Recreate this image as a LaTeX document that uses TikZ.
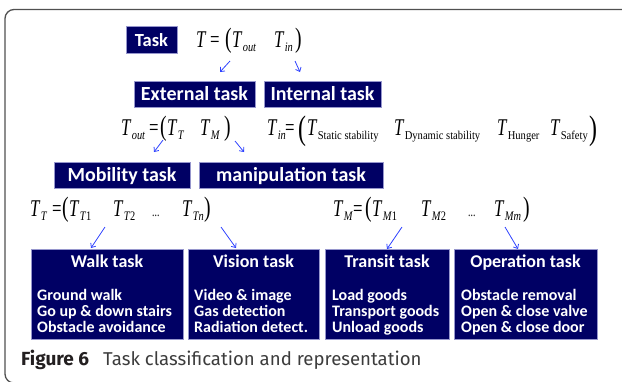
\documentclass[tikz,border=0pt]{standalone}
\usepackage{fontspec}
\usepackage{graphicx}
\setmainfont{Carlito}
\newfontfamily\serifm{Liberation Serif}
\newfontfamily\capfont{Fira Sans}
\usetikzlibrary{arrows.meta}

\definecolor{boxnavy}{RGB}{0,0,100}
\definecolor{boxedge}{RGB}{150,150,205}
\definecolor{arrblue}{RGB}{45,65,255}
\definecolor{frameg}{RGB}{80,80,80}
\definecolor{captxt}{RGB}{35,31,32}
\definecolor{captxtlight}{RGB}{60,60,60}

% Formula pieces: Times-like glyphs, narrowed horizontally
\newcommand\mT{\scalebox{0.7}[1]{\fontsize{24}{24}\selectfont\textit{T}}}
\newcommand\mEq{\scalebox{0.7}[1]{\fontsize{24}{24}\selectfont =}}
\newcommand\mL[1][28]{\scalebox{0.7}[1]{\fontsize{#1}{#1}\selectfont (}}
\newcommand\mR[1][28]{\scalebox{0.7}[1]{\fontsize{#1}{#1}\selectfont )}}
\newcommand\mDots{\scalebox{0.7}[1]{\fontsize{14}{14}\selectfont ...}}
\newcommand\msub[1]{\raisebox{-4pt}{\scalebox{0.8}[1]{\fontsize{13}{13}\selectfont #1}}}
\newcommand\msubR[1]{\raisebox{-4pt}{\scalebox{0.88}[1]{\fontsize{12}{12}\selectfont #1}}}
\newcommand\mTs[1]{\mT\kern0.3pt\msub{#1}}
\newcommand\mTr[1]{\mT\kern0.3pt\msubR{#1}}

\begin{document}
\begin{tikzpicture}[x=1pt,y=-1pt,
  frame/.style={draw=frameg, line width=1.3pt, rounded corners=9pt},
  taskbox/.style={fill=boxnavy, draw=boxedge, line width=0.8pt, inner sep=0pt,
    text=white, font=\bfseries\fontsize{20}{20}\selectfont,
    text height=13.5pt, text depth=0pt},
  bigbox/.style={fill=boxnavy, draw=boxedge, line width=0.8pt, inner sep=0pt,
    minimum height=90pt},
  boxtitle/.style={text=white, inner sep=0pt, anchor=base,
    font=\bfseries\fontsize{18}{18}\selectfont},
  boxitem/.style={text=white, inner sep=0pt, anchor=base west,
    font=\bfseries\fontsize{16}{16}\selectfont},
  fm/.style={inner sep=0pt, anchor=base west, font=\serifm},
  arr/.style={draw=arrblue, line width=0.8pt,
    -{Straight Barb[length=3.5pt,width=6pt]}}]

\useasboundingbox (0,0) rectangle (622,381);
\clip (0,0) rectangle (622,381);

% outer frame, open at the right and bottom
\draw[frame] (623,9.5) -- (5,9.5) -- (5,383) -- (40,383);

% ---- level 1 ----
\node[taskbox, minimum width=51pt, minimum height=27pt,
  font=\bfseries\fontsize{18.5}{18.5}\selectfont] (task) at (151.5,39.5) {Task};
\node[fm] (e1a) at (196,47) {\mT};
\node[fm] (e1b) at (210,47) {\mEq};
\node[fm] (e1c) at (225,47) {\mL};
\node[fm] (e1d) at (232,47) {\mTs{\textit{out}}};
\node[fm] (e1e) at (274,47) {\mTs{\textit{in}}};
\node[fm] (e1f) at (295,47) {\mR};

\coordinate (p1s) at (230,61); \coordinate (p1e) at (220,72);
\coordinate (p2s) at (295,61); \coordinate (p2e) at (300,72);
\draw[arr] (p1s) -- (p1e);
\draw[arr] (p2s) -- (p2e);

% ---- level 2 ----
\node[taskbox, minimum width=121pt, minimum height=26pt] (ext) at (194.5,94) {External task};
\node[taskbox, minimum width=117pt, minimum height=26pt] (int) at (322.5,94) {Internal task};

\node[fm] (e2a) at (121,135) {\mTs{\textit{out}}};
\node[fm] (e2b) at (149,135) {\mEq};
\node[fm] (e2c) at (160,135) {\mL};
\node[fm] (e2d) at (167,135) {\mTs{\textit{T}}};
\node[fm] (e2e) at (200,135) {\mTs{\textit{M}}};
\node[fm] (e2f) at (224,135) {\mR};

\node[fm] (e3a) at (267,135) {\mTs{\textit{in}}};
\node[fm] (e3b) at (285,135) {\mEq};
\node[fm] (e3c) at (298,139) {\mL[34]};
\node[fm] (e3d) at (307,135) {\mTr{Static stability}};
\node[fm] (e3e) at (394,135) {\mTr{Dynamic stability}};
\node[fm] (e3f) at (497,135) {\mTr{Hunger}};
\node[fm] (e3g) at (550,135) {\mTr{Safety}};
\node[fm] (e3h) at (589,139) {\mR[34]};

\coordinate (p3s) at (163,140); \coordinate (p3e) at (154,152);
\coordinate (p4s) at (235,141); \coordinate (p4e) at (244,152);
\draw[arr] (p3s) -- (p3e);
\draw[arr] (p4s) -- (p4e);

% ---- level 3 ----
\node[taskbox, minimum width=136pt, minimum height=26pt] (mob) at (122,175) {Mobility task};
\node[taskbox, minimum width=184pt, minimum height=26pt] (man) at (291,175) {manipulation task};

\node[fm] (e4a) at (30,216) {\mTs{\textit{T}}};
\node[fm] (e4b) at (52,216) {\mEq};
\node[fm] (e4c) at (62,216) {\mL};
\node[fm] (e4d) at (69,216) {\mTs{\textit{T}1}};
\node[fm] (e4e) at (113,216) {\mTs{\textit{T}2}};
\node[fm] (e4f) at (152,216) {\mDots};
\node[fm] (e4g) at (182,216) {\mTs{\textit{Tn}}};
\node[fm] (e4h) at (204,216) {\mR};

\node[fm] (e5a) at (333,216) {\mTs{\textit{M}}};
\node[fm] (e5b) at (353,216) {\mEq};
\node[fm] (e5c) at (365,216) {\mL};
\node[fm] (e5d) at (372,216) {\mTs{\textit{M}1}};
\node[fm] (e5e) at (421,216) {\mTs{\textit{M}2}};
\node[fm] (e5f) at (468,216) {\mDots};
\node[fm] (e5g) at (494,216) {\mTs{\textit{Mm}}};
\node[fm] (e5h) at (523,216) {\mR};

\coordinate (p5s) at (105,227); \coordinate (p5e) at (91,248);
\coordinate (p6s) at (221,227); \coordinate (p6e) at (236,248);
\coordinate (p7s) at (402,227); \coordinate (p7e) at (387,249);
\coordinate (p8s) at (505,227); \coordinate (p8e) at (518,249);
\foreach \s/\e in {p5s/p5e, p6s/p6e, p7s/p7e, p8s/p8e}
  \draw[arr] (\s) -- (\e);

% ---- level 4: leaf tasks ----
\node[bigbox, minimum width=152pt] (walk) at (107,294) {};
\node[bigbox, minimum width=131pt] (vis)  at (253.5,294) {};
\node[bigbox, minimum width=124pt] (tra)  at (387,294) {};
\node[bigbox, minimum width=143pt] (ope)  at (525.5,294) {};

\node[boxtitle] (walkT) at (107,267) {Walk task};
\node[boxtitle] (visT)  at (253.5,267) {Vision task};
\node[boxtitle] (traT)  at (387,267) {Transit task};
\node[boxtitle] (opeT)  at (525.5,267) {Operation task};

\node[boxitem] (walk1) at (37,300) {Ground walk};
\node[boxitem] (walk2) at (37,316) {Go up \& down stairs};
\node[boxitem] (walk3) at (37,332) {Obstacle avoidance};
\node[boxitem] (vis1) at (194,300) {Video \& image};
\node[boxitem] (vis2) at (194,316) {Gas detection};
\node[boxitem] (vis3) at (194,332) {Radiation detect.};
\node[boxitem] (tra1) at (332,300) {Load goods};
\node[boxitem] (tra2) at (332,316) {Transport goods};
\node[boxitem] (tra3) at (332,332) {Unload goods};
\node[boxitem] (ope1) at (461,300) {Obstacle removal};
\node[boxitem] (ope2) at (461,316) {Open \& close valve};
\node[boxitem] (ope3) at (461,332) {Open \& close door};

% ---- caption ----
\node[inner sep=0pt, anchor=base west, text=captxt,
  font=\capfont\bfseries\fontsize{19}{19}\selectfont] (capA) at (21,365) {Figure 6};
\node[inner sep=0pt, anchor=base west, text=captxtlight,
  font=\capfont\fontsize{18.6}{18.6}\selectfont] (capB) at (103,365) {Task classification and representation};
\end{tikzpicture}
\end{document}
